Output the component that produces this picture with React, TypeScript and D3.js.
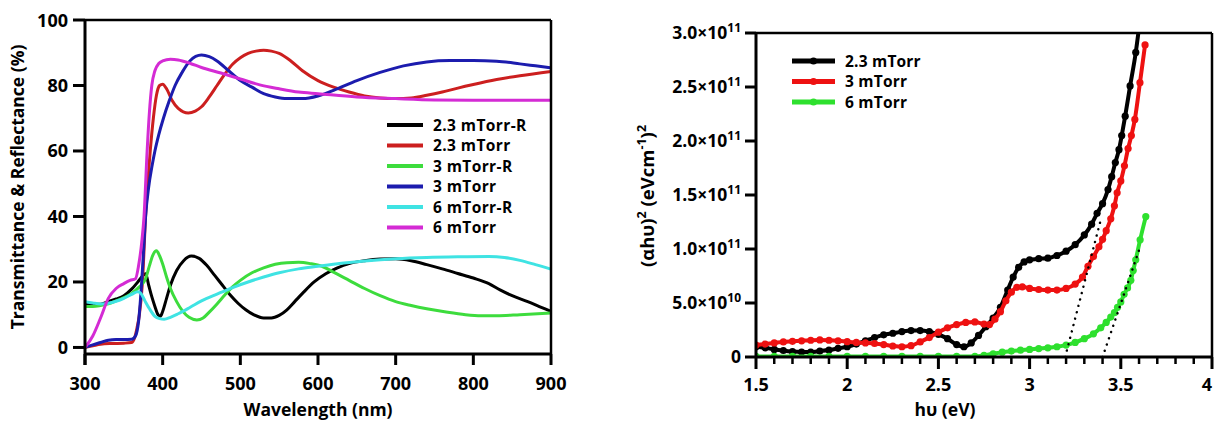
import React from 'react';
import * as d3 from 'd3';

type P = [number, number];

// ---------- Left chart data: wavelength (nm) vs % ----------
const wavelengthTicks = [300, 400, 500, 600, 700, 800, 900];
const percentTicks = [0, 20, 40, 60, 80, 100];

const r23: P[] = [
  [300, 13.5], [310, 13.2], [320, 13.2], [330, 14], [340, 14.8], [350, 15.8], [360, 17.8], [368, 20],
  [374, 21.8], [378, 22.5], [382, 19], [386, 15.5], [390, 12.5], [394, 10], [397, 9.5], [400, 11],
  [405, 15], [410, 19], [418, 23.5], [427, 26.5], [437, 27.9], [447, 27.2], [457, 25], [467, 22],
  [477, 19], [487, 16], [497, 13.5], [507, 11.5], [517, 10], [530, 9], [540, 9], [550, 9.8],
  [560, 11.5], [570, 14], [580, 16.5], [595, 20], [610, 22.5], [625, 24.3], [640, 25.6], [660, 26.5],
  [680, 27], [700, 27.1], [720, 26.5], [740, 25.3], [760, 24], [780, 22.6], [800, 21.2], [820, 19.5],
  [835, 17.5], [850, 15.8], [870, 14], [885, 12.5], [900, 11],
];
const t23: P[] = [
  [300, 0], [310, 0.5], [320, 1], [335, 1.2], [350, 1.3], [360, 1.5], [364, 3], [367, 6], [370, 10],
  [374, 20], [378, 40], [384, 60], [388, 70], [392, 77], [396, 80], [400, 80.4], [405, 79], [412, 75.5],
  [420, 73], [433, 71.6], [442, 72.2], [450, 73.5], [460, 76.5], [470, 80], [480, 83.5], [490, 86.5],
  [500, 88.5], [510, 89.8], [520, 90.5], [530, 90.8], [540, 90.5], [550, 89.8], [565, 87.5], [580, 84.5],
  [600, 81.5], [620, 79.5], [640, 78], [660, 76.8], [680, 76.2], [700, 76], [720, 76.2], [740, 77],
  [760, 78], [780, 79.2], [800, 80.3], [830, 81.8], [860, 83], [900, 84.3],
];
const r3: P[] = [
  [300, 12.5], [310, 12.5], [320, 12.8], [330, 13.3], [340, 14.2], [350, 15.2], [360, 16.5], [370, 18.5],
  [378, 21], [383, 25], [388, 28.5], [392, 29.5], [396, 28], [400, 25.5], [405, 21.5], [410, 18],
  [418, 14], [426, 11], [434, 9.2], [444, 8.4], [452, 9], [460, 10.8], [470, 13.3], [480, 16],
  [490, 18.5], [500, 20.5], [515, 22.8], [530, 24.3], [545, 25.4], [560, 25.9], [575, 26], [590, 25.6],
  [605, 24.8], [620, 23], [640, 20.5], [660, 18], [680, 15.8], [700, 14], [720, 12.8], [740, 11.8],
  [765, 10.8], [790, 10], [810, 9.7], [830, 9.7], [860, 10], [900, 10.5],
];
const t3: P[] = [
  [300, 0], [310, 0.8], [320, 1.5], [330, 2.2], [340, 2.4], [350, 2.4], [360, 2.5], [365, 3.5],
  [369, 8], [373, 20], [376, 32], [378, 40], [382, 49], [386, 55], [390, 60], [395, 65], [401, 70],
  [408, 75], [416, 80], [425, 84], [435, 87.5], [450, 89.3], [460, 88.8], [470, 87.5], [485, 84.5],
  [500, 81.5], [515, 79.5], [530, 77.5], [545, 76.5], [560, 76], [580, 76], [600, 76.8], [620, 78.5],
  [650, 81.5], [680, 84], [710, 86], [740, 87.2], [770, 87.6], [800, 87.6], [830, 87.4], [860, 86.6],
  [880, 86], [900, 85.4],
];
const r6: P[] = [
  [300, 14], [310, 13.6], [320, 13.3], [330, 13.5], [340, 14.1], [350, 15], [360, 16.2], [368, 17],
  [372, 16.5], [377, 14.3], [383, 11.8], [390, 9.5], [396, 8.8], [402, 8.6], [410, 9.2], [420, 10.3],
  [435, 12.2], [450, 14.2], [470, 16.3], [490, 18.3], [510, 20], [530, 21.5], [550, 22.8], [575, 24],
  [600, 24.8], [630, 25.7], [660, 26.4], [700, 27.1], [740, 27.5], [780, 27.7], [820, 27.8], [840, 27.5],
  [860, 26.6], [880, 25.3], [900, 23.9],
];
const t6: P[] = [
  [300, 0], [310, 3.5], [320, 9], [330, 15], [340, 18], [350, 19.5], [358, 20.5], [365, 21], [369, 25],
  [373, 32], [376, 40], [380, 60], [383, 72], [386, 80], [390, 84.5], [395, 86.7], [400, 87.5],
  [410, 88], [420, 87.8], [435, 86.8], [450, 85.5], [475, 83.8], [500, 82], [525, 80.2], [550, 79],
  [575, 78], [600, 77.5], [650, 76.5], [700, 76], [750, 75.6], [800, 75.5], [900, 75.5],
];

const leftNames = ['2.3 mTorr-R', '2.3 mTorr', '3 mTorr-R', '3 mTorr', '6 mTorr-R', '6 mTorr'];
const leftColors = ['#000000', '#cc1f1f', '#3ddc3d', '#1c1cae', '#3fe3e3', '#d42bd4'];
const leftData = [r23, t23, r3, t3, r6, t6];

// ---------- Right chart data: photon energy (eV) vs (αhυ)² in 1e9 units ----------
const energyMajorTicks = [1.5, 2, 2.5, 3, 3.5, 4];
const tauTicks = [0, 50, 100, 150, 200, 250, 300];
const tauTickMantissa = ['0', '5.0×10', '1.0×10', '1.5×10', '2.0×10', '2.5×10', '3.0×10'];
const tauTickExponent = ['', '10', '11', '11', '11', '11', '11'];

const e23: P[] = [
  [1.5, 9.5], [1.55, 8.5], [1.6, 7], [1.65, 6], [1.7, 5], [1.75, 4.6], [1.8, 4.6], [1.85, 5.5],
  [1.9, 6.5], [1.95, 8], [2.0, 9.5], [2.05, 12], [2.1, 15], [2.15, 18], [2.2, 20.5], [2.25, 22],
  [2.3, 23.5], [2.35, 24.5], [2.4, 24.5], [2.45, 23.5], [2.5, 21], [2.55, 17], [2.6, 11.5], [2.64, 9.5],
  [2.68, 13], [2.72, 20], [2.76, 28], [2.8, 36], [2.84, 46], [2.88, 62], [2.91, 74], [2.94, 83],
  [2.97, 88], [3.0, 90], [3.05, 91], [3.1, 91.5], [3.15, 94], [3.2, 98], [3.25, 104], [3.3, 113],
  [3.34, 123], [3.37, 133], [3.4, 142], [3.43, 155], [3.45, 167], [3.47, 180], [3.49, 192],
  [3.505, 205], [3.524, 223], [3.551, 251], [3.582, 282], [3.6, 305],
];
const e3: P[] = [
  [1.5, 11], [1.55, 12], [1.6, 13], [1.65, 14], [1.7, 14.5], [1.75, 15], [1.8, 15.5], [1.85, 15.8],
  [1.9, 15.5], [1.95, 15], [2.0, 14.2], [2.05, 13.5], [2.1, 13], [2.15, 12.5], [2.2, 11.5], [2.25, 10.2],
  [2.3, 9.5], [2.35, 10.5], [2.4, 14], [2.45, 18], [2.5, 23], [2.55, 27], [2.6, 30], [2.65, 32],
  [2.7, 32.5], [2.75, 30.5], [2.78, 30], [2.81, 35], [2.84, 42], [2.87, 52], [2.9, 60], [2.93, 64.5],
  [2.96, 65], [3.0, 63.5], [3.05, 62.5], [3.1, 62], [3.15, 62], [3.2, 63.5], [3.25, 67.5], [3.29, 74],
  [3.32, 84], [3.35, 93], [3.38, 102], [3.4, 109], [3.42, 117], [3.445, 128], [3.465, 140], [3.48, 152],
  [3.5, 163], [3.52, 177], [3.54, 193], [3.558, 205], [3.577, 220], [3.605, 254], [3.633, 289],
];
const e6: P[] = [
  [1.5, 0.5], [1.6, 0.5], [1.7, 0.5], [1.8, 0.5], [1.9, 0.5], [2.0, 0.5], [2.1, 0.5], [2.2, 0.5],
  [2.3, 0.5], [2.4, 0.5], [2.5, 0.5], [2.6, 0.5], [2.7, 0.5], [2.75, 1.5], [2.8, 3], [2.85, 4.5],
  [2.9, 5.5], [2.95, 6.3], [3.0, 7], [3.05, 7.8], [3.1, 8.5], [3.15, 9.5], [3.2, 11], [3.25, 13.5],
  [3.3, 17], [3.35, 21.5], [3.39, 27], [3.42, 32], [3.445, 37], [3.465, 41], [3.482, 46], [3.5, 51],
  [3.518, 58], [3.537, 64], [3.555, 71], [3.568, 80], [3.582, 90], [3.606, 108.5], [3.637, 130],
];
const tangentA: P[] = [[3.195, 0], [3.39, 127]];
const tangentB: P[] = [[3.4, 0], [3.6, 99]];

const rightNames = ['2.3 mTorr', '3 mTorr', '6 mTorr'];
const rightColors = ['#000000', '#ee1111', '#2ee02e'];
const rightData = [e23, e3, e6];

const FONT = '"Open Sans", "DejaVu Sans", sans-serif';

export default function App() {
  // Left chart scales
  const xL = d3.scaleLinear().domain([300, 900]).range([85, 551]);
  const yL = d3.scaleLinear().domain([-2, 100]).range([354, 20]);
  const lineL = d3.line<P>().x(d => xL(d[0])).y(d => yL(d[1])).curve(d3.curveMonotoneX);

  // Right chart scales
  const xR = d3.scaleLinear().domain([1.5, 4]).range([756, 1212]);
  const yR = d3.scaleLinear().domain([0, 300]).range([357, 33]);
  const lineR = d3.line<P>().x(d => xR(d[0])).y(d => yR(d[1])).curve(d3.curveMonotoneX);
  const minorE = d3.range(1.6, 4.0, 0.1).filter(v => Math.abs(v * 2 - Math.round(v * 2)) > 1e-6);

  const legendLRows = leftNames.map((_, i) => 125 + i * 20.5);
  const legendRRows = rightNames.map((_, i) => 61 + i * 20.5);

  return (
    <svg width={1214} height={422} style={{ position: 'absolute', left: 0, top: 0, background: '#fff' }}
      fontFamily={FONT} fontWeight={700}>
      <rect x={0} y={0} width={1214} height={422} fill="#fff" />
      <defs>
        <clipPath id="clipL"><rect x={85} y={18} width={468} height={338} /></clipPath>
        <clipPath id="clipR"><rect x={756} y={33} width={456} height={324} /></clipPath>
      </defs>

      {/* ---------- LEFT CHART ---------- */}
      <g clipPath="url(#clipL)">
        {leftData.map((d, i) => (
          <path key={i} d={lineL(d) || ''} fill="none" stroke={leftColors[i]} strokeWidth={3} strokeLinejoin="round" />
        ))}
      </g>
      <line x1={85} x2={551} y1={20} y2={20} stroke="#000" strokeWidth={2.5} />
      <line x1={551} x2={551} y1={20} y2={354} stroke="#000" strokeWidth={2.5} />
      <line x1={85} x2={551} y1={354} y2={354} stroke="#000" strokeWidth={3} />
      <line x1={85} x2={85} y1={20} y2={365} stroke="#000" strokeWidth={3} />
      {wavelengthTicks.map(t => (
        <g key={t}>
          <line x1={xL(t)} x2={xL(t)} y1={354} y2={365} stroke="#000" strokeWidth={3} />
          <text x={xL(t)} y={390} textAnchor="middle" fontSize={18}>{t}</text>
        </g>
      ))}
      {percentTicks.map(t => (
        <g key={t}>
          <line x1={73} x2={85} y1={yL(t)} y2={yL(t)} stroke="#000" strokeWidth={3} />
          <text x={68} y={yL(t) + 6.5} textAnchor="end" fontSize={18}>{t}</text>
        </g>
      ))}
      <text x={318} y={416} textAnchor="middle" fontSize={17.5}>Wavelength (nm)</text>
      <text transform={`translate(24,187) rotate(-90)`} textAnchor="middle" fontSize={17.5}>
        Transmittance &amp; Reflectance (%)
      </text>
      {leftNames.map((n, i) => (
        <g key={n}>
          <line x1={387} x2={423} y1={legendLRows[i]} y2={legendLRows[i]} stroke={leftColors[i]} strokeWidth={4} />
          <text x={433} y={legendLRows[i] + 5.5} fontSize={15.5} letterSpacing={0.4}>{n}</text>
        </g>
      ))}

      {/* ---------- RIGHT CHART ---------- */}
      <g clipPath="url(#clipR)">
        {rightData.map((d, i) => (
          <g key={i}>
            <path d={lineR(d) || ''} fill="none" stroke={rightColors[i]} strokeWidth={4} strokeLinejoin="round" />
            {d.map((p, j) => (
              <circle key={j} cx={xR(p[0])} cy={yR(p[1])} r={3.6} fill={rightColors[i]} />
            ))}
          </g>
        ))}
        {[tangentA, tangentB].map((d, i) => (
          <path key={i} d={d3.line<P>().x(p => xR(p[0])).y(p => yR(p[1]))(d) || ''} fill="none"
            stroke="#000" strokeWidth={2.4} strokeDasharray="0.1 6.5" strokeLinecap="round" />
        ))}
      </g>
      <line x1={756} x2={1212} y1={33} y2={33} stroke="#000" strokeWidth={2.5} />
      <line x1={1212} x2={1212} y1={33} y2={357} stroke="#000" strokeWidth={2.5} />
      <line x1={756} x2={1212} y1={357} y2={357} stroke="#000" strokeWidth={3} />
      <line x1={756} x2={756} y1={33} y2={357} stroke="#000" strokeWidth={3} />
      {energyMajorTicks.map(t => (
        <g key={t}>
          <line x1={xR(t)} x2={xR(t)} y1={357} y2={369} stroke="#000" strokeWidth={3} />
          <text x={t === 4 ? 1207 : xR(t)} y={391} textAnchor="middle" fontSize={18}>{t}</text>
        </g>
      ))}
      {minorE.map(t => (
        <line key={t} x1={xR(t)} x2={xR(t)} y1={357} y2={364} stroke="#000" strokeWidth={2.5} />
      ))}
      {tauTicks.map((t, i) => (
        <g key={t}>
          <line x1={745} x2={756} y1={yR(t)} y2={yR(t)} stroke="#000" strokeWidth={3} />
          <text x={741} y={yR(t) + 6} textAnchor="end" fontSize={17.5}>
            {tauTickMantissa[i]}
            {tauTickExponent[i] && <tspan dy={-7.5} fontSize={12}>{tauTickExponent[i]}</tspan>}
          </text>
        </g>
      ))}
      <text x={945} y={416} textAnchor="middle" fontSize={17.5}>hυ (eV)</text>
      <text transform={`translate(654,196) rotate(-90)`} textAnchor="middle" fontSize={18.5}>
        (αhυ)<tspan dy={-8} fontSize={12.5}>2</tspan>
        <tspan dy={8}> (eVcm</tspan><tspan dy={-8} fontSize={12.5}>-1</tspan>
        <tspan dy={8}>)</tspan><tspan dy={-8} fontSize={12.5}>2</tspan>
      </text>
      {rightNames.map((n, i) => (
        <g key={n}>
          <line x1={792} x2={835} y1={legendRRows[i]} y2={legendRRows[i]} stroke={rightColors[i]} strokeWidth={5} />
          <circle cx={813.5} cy={legendRRows[i]} r={3.6} fill={rightColors[i]} />
          <text x={845} y={legendRRows[i] + 5.5} fontSize={15.5} letterSpacing={0.2}>{n}</text>
        </g>
      ))}
    </svg>
  );
}
